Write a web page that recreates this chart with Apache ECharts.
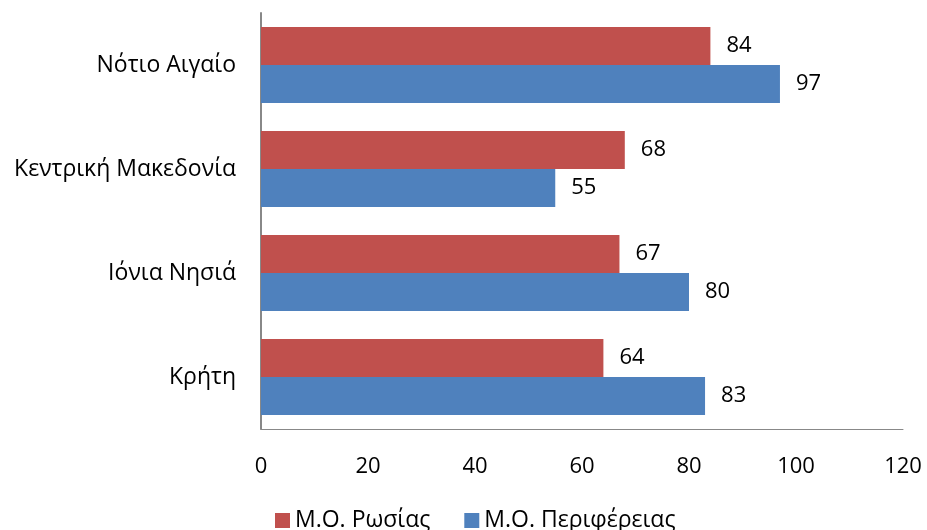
<!DOCTYPE html>
<html><head><meta charset="utf-8">
<script src="https://cdn.jsdelivr.net/npm/echarts@6/dist/echarts.min.js"></script>
<style>html,body{margin:0;padding:0;background:#fff}#c{width:927px;height:530px}</style>
</head><body><div id="c"></div>
<script>
const categories = ['Νότιο Αιγαίο', 'Κεντρική Μακεδονία', 'Ιόνια Νησιά', 'Κρήτη'];
const seriesNames = ['Μ.Ο. Ρωσίας', 'Μ.Ο. Περιφέρειας'];
const russiaValues = [84, 68, 67, 64];
const regionValues = [97, 55, 80, 83];
const xTicks = {min: 0, max: 120, interval: 20};

const FONT = 'Open Sans';
const chart = echarts.init(document.getElementById('c'));
chart.setOption({
  animation: false,
  textStyle: {fontFamily: FONT},
  grid: {left: 261, right: 24, top: 13, bottom: 101},
  legend: {
    data: seriesNames, top: 504, left: 270, itemWidth: 15, itemHeight: 15, itemGap: 34,
    icon: 'rect', textStyle: {fontSize: 23, color: '#000', fontFamily: FONT}
  },
  xAxis: {
    type: 'value', min: xTicks.min, max: xTicks.max, interval: xTicks.interval,
    splitLine: {show: false},
    axisLine: {show: true, lineStyle: {color: '#888', width: 1}},
    axisTick: {show: false},
    axisLabel: {fontSize: 22, color: '#000', margin: 27, fontFamily: FONT}
  },
  yAxis: {
    type: 'category', data: categories, inverse: true,
    axisLine: {show: true, lineStyle: {color: '#888', width: 2}},
    axisTick: {show: false},
    axisLabel: {fontSize: 23, color: '#000', margin: 25, fontFamily: FONT}
  },
  series: [
    {name: seriesNames[0], type: 'bar', data: russiaValues, barGap: '0%', barCategoryGap: '27%',
     itemStyle: {color: '#C0504D'},
     label: {show: true, position: 'right', distance: 16, fontSize: 22, color: '#000', fontFamily: FONT}},
    {name: seriesNames[1], type: 'bar', data: regionValues, barGap: '0%', barCategoryGap: '27%',
     itemStyle: {color: '#4F81BD'},
     label: {show: true, position: 'right', distance: 16, fontSize: 22, color: '#000', fontFamily: FONT}}
  ]
});
</script></body></html>
